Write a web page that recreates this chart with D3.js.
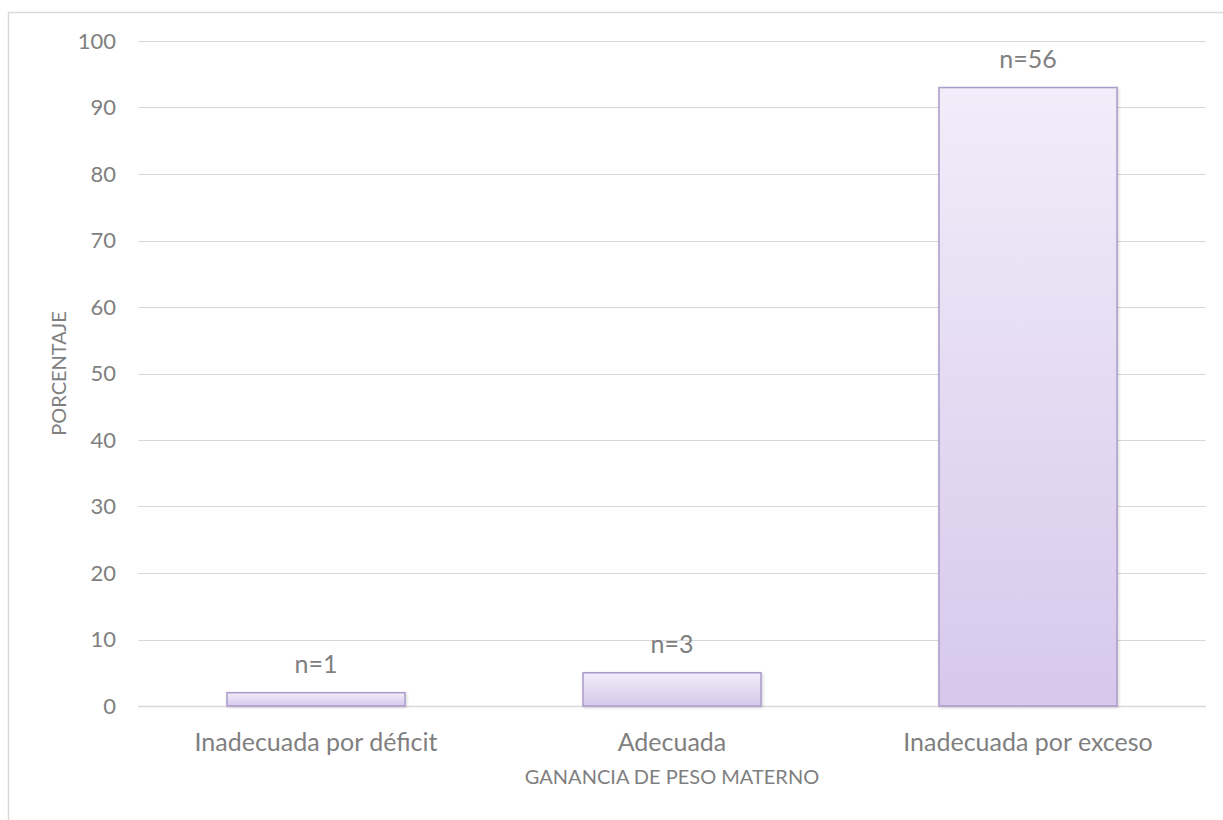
<!DOCTYPE html>
<html>
<head>
<meta charset="utf-8">
<script src="https://cdn.jsdelivr.net/npm/d3@7"></script>
<style>
  body { margin: 0; background: #fff; }
  text { font-family: Lato, "Noto Sans", sans-serif; fill: #7f7f7f; }
</style>
</head>
<body>
<div id="chart"></div>
<script>
// datos
const categorias = ["Inadecuada por déficit", "Adecuada", "Inadecuada por exceso"];
const porcentajes = [2, 5, 93];
const etiquetasN = ["n=1", "n=3", "n=56"];
const ticksY = [0, 10, 20, 30, 40, 50, 60, 70, 80, 90, 100];

const WIDTH = 1223;
const HEIGHT = 820;
const margin = { top: 41, right: 17, bottom: 114, left: 138 };
const WIDTHVIS = WIDTH - margin.left - margin.right;
const HEIGHTVIS = HEIGHT - margin.top - margin.bottom;

const svg = d3.select("#chart")
    .append("svg")
    .attr("width", WIDTH)
    .attr("height", HEIGHT);

// borde del area del grafico
svg.append("rect")
    .attr("x", 8.5)
    .attr("y", 12.5)
    .attr("width", 1240)
    .attr("height", 840)
    .attr("fill", "none")
    .attr("stroke", "#d9d9d9")
    .attr("stroke-width", 1.5);

const defs = svg.append("defs");
const grad = defs.append("linearGradient")
    .attr("id", "gradBarra")
    .attr("x1", 0).attr("y1", 0)
    .attr("x2", 0).attr("y2", 1);
grad.append("stop").attr("offset", "0%").attr("stop-color", "#f1edf9");
grad.append("stop").attr("offset", "100%").attr("stop-color", "#d7c8ec");

const sombra = defs.append("filter").attr("id", "sombra")
    .attr("x", "-10%").attr("y", "-10%").attr("width", "130%").attr("height", "130%");
sombra.append("feDropShadow")
    .attr("dx", 1).attr("dy", 1).attr("stdDeviation", 1.5)
    .attr("flood-color", "#000").attr("flood-opacity", 0.18);

const xScale = d3.scaleBand()
    .domain(categorias)
    .range([0, WIDTHVIS])
    .paddingInner(0.5)
    .paddingOuter(0.25);

const yScale = d3.scaleLinear()
    .domain([0, 100])
    .range([HEIGHTVIS, 0]);

const g = svg.append("g")
    .attr("transform", `translate(${margin.left}, ${margin.top})`);

// lineas de cuadricula
g.append("g")
    .selectAll("line")
    .data(ticksY)
    .join("line")
    .attr("x1", 0)
    .attr("x2", WIDTHVIS)
    .attr("y1", (d) => Math.round(yScale(d)) + 0.5)
    .attr("y2", (d) => Math.round(yScale(d)) + 0.5)
    .attr("stroke", "#d9d9d9")
    .attr("stroke-width", (d) => (d === 0 ? 1.5 : 1));

// eje Y
const ejeY = d3.axisLeft(yScale).tickValues(ticksY).tickSize(0).tickPadding(22);
g.append("g")
    .call(ejeY)
    .call((s) => s.select(".domain").remove())
    .selectAll("text")
    .attr("font-size", "22px")
    .attr("fill", "#7f7f7f")
    .style("font-family", "Lato, 'Noto Sans', sans-serif");

// barras
g.append("g")
    .selectAll("rect")
    .data(porcentajes)
    .join("rect")
    .attr("x", (d, i) => xScale(categorias[i]))
    .attr("y", (d) => yScale(d))
    .attr("width", xScale.bandwidth())
    .attr("height", (d) => HEIGHTVIS - yScale(d))
    .attr("fill", "url(#gradBarra)")
    .attr("stroke", "#aa9cc9")
    .attr("stroke-width", 1.5)
    .attr("filter", "url(#sombra)");

// etiquetas n
g.append("g")
    .selectAll("text")
    .data(porcentajes)
    .join("text")
    .attr("x", (d, i) => xScale(categorias[i]) + xScale.bandwidth() / 2)
    .attr("y", (d) => yScale(d) - 20)
    .attr("text-anchor", "middle")
    .attr("font-size", "25px")
    .text((d, i) => etiquetasN[i]);

// eje X
const ejeX = d3.axisBottom(xScale).tickSize(0);
g.append("g")
    .attr("transform", `translate(0, ${HEIGHTVIS})`)
    .call(ejeX)
    .call((s) => s.select(".domain").remove())
    .selectAll("text")
    .attr("y", 45)
    .attr("dy", 0)
    .attr("font-size", "25px")
    .attr("fill", "#7f7f7f")
    .style("font-family", "Lato, 'Noto Sans', sans-serif");

// titulos de ejes
svg.append("text")
    .attr("x", margin.left + WIDTHVIS / 2)
    .attr("y", 784)
    .attr("text-anchor", "middle")
    .attr("font-size", "20px")
    .text("GANANCIA DE PESO MATERNO");

svg.append("text")
    .attr("transform", `translate(66, ${margin.top + HEIGHTVIS / 2}) rotate(-90)`)
    .attr("text-anchor", "middle")
    .attr("font-size", "20px")
    .text("PORCENTAJE");
</script>
</body>
</html>
